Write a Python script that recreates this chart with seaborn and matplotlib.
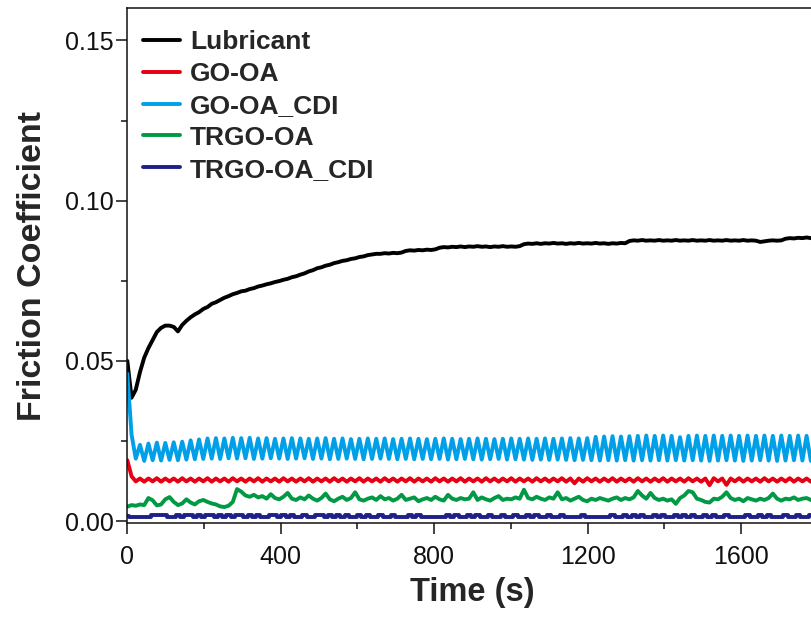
import numpy as np
import pandas as pd
import matplotlib
matplotlib.use("Agg")
import matplotlib.pyplot as plt
from matplotlib.ticker import MultipleLocator, FormatStrFormatter
import seaborn as sns

dt = 11  # s between samples

series_names = ["Lubricant", "GO-OA", "GO-OA_CDI", "TRGO-OA", "TRGO-OA_CDI"]
series_colors = ["#000000", "#E60012", "#00A0E9", "#009944", "#1D2088"]

lubricant = [
    0.0500, 0.0385, 0.0410, 0.0465, 0.0510, 0.0540, 0.0565, 0.0590, 0.0603, 0.0610,
    0.0610, 0.0606, 0.0592, 0.0612, 0.0625, 0.0636, 0.0645, 0.0652, 0.0662, 0.0668,
    0.0678, 0.0683, 0.0690, 0.0697, 0.0702, 0.0708, 0.0712, 0.0717, 0.0719, 0.0724,
    0.0727, 0.0732, 0.0735, 0.0739, 0.0742, 0.0746, 0.0749, 0.0753, 0.0756, 0.0761,
    0.0764, 0.0769, 0.0773, 0.0779, 0.0783, 0.0789, 0.0792, 0.0797, 0.0800, 0.0805,
    0.0808, 0.0812, 0.0814, 0.0818, 0.0820, 0.0824, 0.0826, 0.0830, 0.0832, 0.0834,
    0.0834, 0.0836, 0.0835, 0.0837, 0.0836, 0.0838, 0.0843, 0.0845, 0.0844, 0.0846,
    0.0845, 0.0847, 0.0846, 0.0848, 0.0853, 0.0855, 0.0854, 0.0856, 0.0855, 0.0857,
    0.0855, 0.0857, 0.0856, 0.0858, 0.0856, 0.0857, 0.0855, 0.0857, 0.0856, 0.0858,
    0.0856, 0.0857, 0.0856, 0.0858, 0.0864, 0.0866, 0.0865, 0.0867, 0.0865, 0.0867,
    0.0866, 0.0868, 0.0866, 0.0867, 0.0865, 0.0867, 0.0866, 0.0868, 0.0866, 0.0867,
    0.0866, 0.0868, 0.0866, 0.0867, 0.0865, 0.0867, 0.0866, 0.0868, 0.0867, 0.0874,
    0.0876, 0.0875, 0.0877, 0.0875, 0.0876, 0.0875, 0.0877, 0.0875, 0.0876, 0.0875,
    0.0877, 0.0875, 0.0876, 0.0875, 0.0877, 0.0875, 0.0876, 0.0875, 0.0877, 0.0875,
    0.0876, 0.0875, 0.0877, 0.0875, 0.0876, 0.0875, 0.0877, 0.0875, 0.0876, 0.0875,
    0.0871, 0.0873, 0.0875, 0.0876, 0.0875, 0.0876, 0.0881, 0.0883, 0.0882, 0.0884,
    0.0883, 0.0885, 0.0883, 0.0884, 0.0885,
]

go_oa = [
    0.0190, 0.0140, 0.0124, 0.0133, 0.0123, 0.0133, 0.0124, 0.0134, 0.0123, 0.0133,
    0.0124, 0.0133, 0.0123, 0.0134, 0.0124, 0.0133, 0.0123, 0.0133, 0.0124, 0.0134,
    0.0123, 0.0133, 0.0124, 0.0133, 0.0123, 0.0134, 0.0124, 0.0133, 0.0123, 0.0133,
    0.0124, 0.0134, 0.0123, 0.0133, 0.0124, 0.0133, 0.0123, 0.0134, 0.0124, 0.0133,
    0.0123, 0.0133, 0.0124, 0.0134, 0.0123, 0.0133, 0.0124, 0.0133, 0.0123, 0.0134,
    0.0124, 0.0133, 0.0123, 0.0133, 0.0124, 0.0134, 0.0123, 0.0133, 0.0124, 0.0133,
    0.0123, 0.0134, 0.0124, 0.0133, 0.0123, 0.0133, 0.0124, 0.0134, 0.0123, 0.0133,
    0.0124, 0.0133, 0.0123, 0.0134, 0.0124, 0.0133, 0.0123, 0.0133, 0.0124, 0.0134,
    0.0123, 0.0133, 0.0124, 0.0133, 0.0123, 0.0134, 0.0124, 0.0133, 0.0123, 0.0133,
    0.0124, 0.0134, 0.0123, 0.0133, 0.0124, 0.0133, 0.0123, 0.0134, 0.0124, 0.0133,
    0.0123, 0.0133, 0.0124, 0.0134, 0.0123, 0.0133, 0.0118, 0.0133, 0.0123, 0.0134,
    0.0124, 0.0133, 0.0123, 0.0133, 0.0124, 0.0134, 0.0123, 0.0133, 0.0124, 0.0133,
    0.0123, 0.0134, 0.0124, 0.0133, 0.0123, 0.0133, 0.0124, 0.0134, 0.0123, 0.0133,
    0.0124, 0.0133, 0.0123, 0.0134, 0.0124, 0.0133, 0.0123, 0.0133, 0.0112, 0.0134,
    0.0124, 0.0133, 0.0113, 0.0133, 0.0124, 0.0134, 0.0123, 0.0133, 0.0124, 0.0133,
    0.0123, 0.0134, 0.0124, 0.0133, 0.0123, 0.0133, 0.0124, 0.0134, 0.0123, 0.0133,
    0.0124, 0.0133, 0.0123, 0.0134, 0.0124,
]

go_oa_cdi = [
    0.0460, 0.0270, 0.0195, 0.0238, 0.0188, 0.0242, 0.0190, 0.0245, 0.0189, 0.0244,
    0.0191, 0.0246, 0.0190, 0.0248, 0.0192, 0.0252, 0.0193, 0.0255, 0.0194, 0.0258,
    0.0195, 0.0259, 0.0194, 0.0258, 0.0196, 0.0260, 0.0195, 0.0259, 0.0196, 0.0260,
    0.0194, 0.0258, 0.0195, 0.0259, 0.0196, 0.0257, 0.0195, 0.0258, 0.0194, 0.0259,
    0.0195, 0.0258, 0.0196, 0.0257, 0.0194, 0.0258, 0.0195, 0.0259, 0.0193, 0.0257,
    0.0194, 0.0258, 0.0195, 0.0256, 0.0194, 0.0257, 0.0193, 0.0258, 0.0194, 0.0257,
    0.0195, 0.0258, 0.0194, 0.0256, 0.0193, 0.0257, 0.0194, 0.0258, 0.0193, 0.0257,
    0.0194, 0.0256, 0.0193, 0.0257, 0.0194, 0.0258, 0.0192, 0.0257, 0.0193, 0.0256,
    0.0194, 0.0257, 0.0193, 0.0258, 0.0192, 0.0257, 0.0193, 0.0256, 0.0194, 0.0257,
    0.0192, 0.0258, 0.0193, 0.0257, 0.0192, 0.0258, 0.0191, 0.0257, 0.0192, 0.0258,
    0.0191, 0.0257, 0.0192, 0.0258, 0.0191, 0.0259, 0.0190, 0.0258, 0.0191, 0.0259,
    0.0190, 0.0263, 0.0189, 0.0264, 0.0190, 0.0265, 0.0189, 0.0264, 0.0190, 0.0265,
    0.0189, 0.0266, 0.0190, 0.0267, 0.0189, 0.0266, 0.0190, 0.0267, 0.0189, 0.0266,
    0.0190, 0.0262, 0.0189, 0.0266, 0.0190, 0.0267, 0.0189, 0.0266, 0.0188, 0.0267,
    0.0189, 0.0266, 0.0190, 0.0267, 0.0189, 0.0266, 0.0188, 0.0267, 0.0189, 0.0266,
    0.0190, 0.0267, 0.0189, 0.0266, 0.0188, 0.0267, 0.0189, 0.0266, 0.0190, 0.0267,
    0.0189, 0.0266, 0.0188, 0.0267, 0.0189,
]

trgo_oa = [
    0.0045, 0.0050, 0.0048, 0.0052, 0.0050, 0.0072, 0.0065, 0.0049, 0.0052, 0.0068,
    0.0075, 0.0060, 0.0050, 0.0055, 0.0068, 0.0058, 0.0052, 0.0062, 0.0066, 0.0060,
    0.0055, 0.0052, 0.0046, 0.0044, 0.0048, 0.0060, 0.0100, 0.0092, 0.0080, 0.0076,
    0.0082, 0.0074, 0.0078, 0.0070, 0.0084, 0.0072, 0.0068, 0.0076, 0.0088, 0.0070,
    0.0066, 0.0074, 0.0068, 0.0080, 0.0070, 0.0064, 0.0072, 0.0086, 0.0068, 0.0062,
    0.0070, 0.0076, 0.0066, 0.0072, 0.0090, 0.0068, 0.0064, 0.0070, 0.0074, 0.0066,
    0.0078, 0.0068, 0.0072, 0.0064, 0.0070, 0.0082, 0.0066, 0.0070, 0.0074, 0.0062,
    0.0068, 0.0072, 0.0066, 0.0076, 0.0068, 0.0064, 0.0082, 0.0070, 0.0066, 0.0072,
    0.0068, 0.0070, 0.0090, 0.0066, 0.0074, 0.0068, 0.0064, 0.0072, 0.0078, 0.0066,
    0.0070, 0.0068, 0.0074, 0.0070, 0.0098, 0.0072, 0.0068, 0.0076, 0.0070, 0.0066,
    0.0074, 0.0070, 0.0090, 0.0068, 0.0072, 0.0064, 0.0070, 0.0076, 0.0066, 0.0062,
    0.0070, 0.0066, 0.0072, 0.0068, 0.0064, 0.0070, 0.0074, 0.0066, 0.0072, 0.0068,
    0.0074, 0.0094, 0.0080, 0.0070, 0.0088, 0.0072, 0.0066, 0.0070, 0.0064, 0.0068,
    0.0054, 0.0072, 0.0080, 0.0094, 0.0090, 0.0070, 0.0066, 0.0060, 0.0058, 0.0070,
    0.0068, 0.0076, 0.0090, 0.0072, 0.0066, 0.0070, 0.0062, 0.0072, 0.0068, 0.0064,
    0.0070, 0.0066, 0.0072, 0.0086, 0.0070, 0.0064, 0.0070, 0.0068, 0.0074, 0.0066,
    0.0070, 0.0072, 0.0066, 0.0070, 0.0068,
]

trgo_oa_cdi = [
    0.0015, 0.0012, 0.0012, 0.0012, 0.0012, 0.0012, 0.0020, 0.0020, 0.0020, 0.0020,
    0.0012, 0.0012, 0.0020, 0.0012, 0.0020, 0.0020, 0.0012, 0.0020, 0.0012, 0.0020,
    0.0020, 0.0012, 0.0020, 0.0012, 0.0020, 0.0012, 0.0020, 0.0020, 0.0012, 0.0020,
    0.0012, 0.0020, 0.0012, 0.0012, 0.0020, 0.0020, 0.0012, 0.0020, 0.0012, 0.0020,
    0.0012, 0.0012, 0.0020, 0.0012, 0.0012, 0.0020, 0.0020, 0.0012, 0.0020, 0.0012,
    0.0020, 0.0012, 0.0020, 0.0012, 0.0012, 0.0020, 0.0012, 0.0020, 0.0012, 0.0012,
    0.0020, 0.0012, 0.0012, 0.0020, 0.0012, 0.0012, 0.0012, 0.0020, 0.0012, 0.0020,
    0.0012, 0.0012, 0.0012, 0.0012, 0.0012, 0.0012, 0.0020, 0.0012, 0.0020, 0.0012,
    0.0012, 0.0020, 0.0012, 0.0020, 0.0012, 0.0012, 0.0020, 0.0012, 0.0012, 0.0020,
    0.0012, 0.0012, 0.0020, 0.0012, 0.0012, 0.0020, 0.0012, 0.0020, 0.0012, 0.0012,
    0.0020, 0.0012, 0.0012, 0.0020, 0.0012, 0.0012, 0.0012, 0.0012, 0.0020, 0.0012,
    0.0012, 0.0012, 0.0012, 0.0012, 0.0012, 0.0020, 0.0012, 0.0012, 0.0020, 0.0012,
    0.0020, 0.0012, 0.0020, 0.0012, 0.0012, 0.0020, 0.0012, 0.0020, 0.0012, 0.0012,
    0.0020, 0.0012, 0.0020, 0.0012, 0.0020, 0.0012, 0.0012, 0.0020, 0.0012, 0.0020,
    0.0012, 0.0012, 0.0020, 0.0012, 0.0012, 0.0012, 0.0012, 0.0020, 0.0012, 0.0012,
    0.0020, 0.0012, 0.0020, 0.0012, 0.0012, 0.0012, 0.0020, 0.0012, 0.0012, 0.0020,
    0.0012, 0.0012, 0.0020, 0.0012, 0.0020,
]

x_ticks = [0, 400, 800, 1200, 1600]
y_ticks = [0.00, 0.05, 0.10, 0.15]

# ---------------- long-form table ----------------
all_values = [lubricant, go_oa, go_oa_cdi, trgo_oa, trgo_oa_cdi]
frames = []
for name, vals in zip(series_names, all_values):
    frames.append(pd.DataFrame({
        "Time (s)": np.arange(len(vals)) * dt,
        "Friction Coefficient": vals,
        "series": name,
    }))
df = pd.concat(frames, ignore_index=True)

# ---------------- style ----------------
sns.set_theme(style="ticks")
plt.rcParams["font.family"] = ["Liberation Sans", "DejaVu Sans"]
plt.rcParams["axes.linewidth"] = 1.1
plt.rcParams["axes.edgecolor"] = "#111111"

fig = plt.figure(figsize=(8.11, 6.17), dpi=100)
ax = fig.add_axes([0.157, 0.1528, 0.8513, 0.8337])

palette = dict(zip(series_names, series_colors))
for name in series_names:
    sub = df[df["series"] == name]
    kw = {}
    if name == "TRGO-OA_CDI":
        kw["drawstyle"] = "steps-mid"
    sns.lineplot(data=sub, x="Time (s)", y="Friction Coefficient",
                 color=palette[name], label=name, linewidth=2.8,
                 estimator=None, sort=False, ax=ax, **kw)

ax.set_xlim(0, 1800)
ax.set_ylim(-0.0005, 0.16)
ax.set_xticks(x_ticks)
ax.set_yticks(y_ticks)
ax.xaxis.set_minor_locator(MultipleLocator(200))
ax.yaxis.set_minor_locator(MultipleLocator(0.025))
ax.yaxis.set_major_formatter(FormatStrFormatter("%.2f"))

ax.tick_params(axis="both", which="major", direction="out", length=8, width=1.1,
               labelsize=18, colors="#111111")
ax.tick_params(axis="x", which="major", pad=8)
ax.tick_params(axis="y", which="major", pad=2)
ax.tick_params(axis="both", which="minor", direction="out", length=4, width=1.1,
               colors="#111111")
ax.tick_params(top=False, right=False, which="both")
for s in ["top", "right", "left", "bottom"]:
    ax.spines[s].set_visible(True)

ax.set_xlabel("Time (s)", fontsize=23.5, fontweight="bold", labelpad=6)
ax.set_ylabel("Friction Coefficient", fontsize=24.5, fontweight="bold", labelpad=12)

handles, labels = ax.get_legend_handles_labels()
leg = ax.legend(handles, labels, loc="upper left", bbox_to_anchor=(0.023, 0.958),
                frameon=False, borderpad=0, borderaxespad=0,
                handlelength=1.4, handletextpad=0.38, labelspacing=0.3,
                prop={"family": ["Liberation Sans", "DejaVu Sans"],
                      "weight": "bold", "size": 19})
for line in leg.get_lines():
    line.set_linewidth(2.8)
    line.set_drawstyle("default")

fig.savefig("out.png", dpi=100)
